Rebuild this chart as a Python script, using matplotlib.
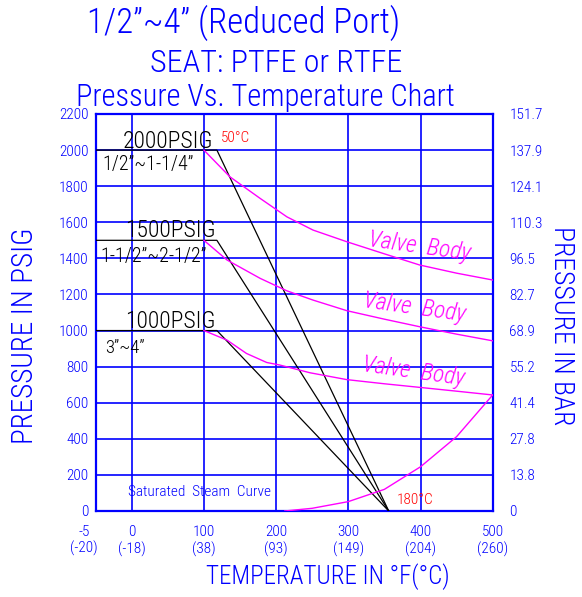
import matplotlib.pyplot as plt

# axis values
temp_f = [0, 100, 200, 300, 400, 500]
temp_c = ['(-18)', '(38)', '(93)', '(149)', '(204)', '(260)']
psig_ticks = [0, 200, 400, 600, 800, 1000, 1200, 1400, 1600, 1800, 2000, 2200]
bar_labels = ['0', '13.8', '27.8', '41.4', '55.2', '68.9', '82.7', '96.5',
              '110.3', '124.1', '137.9', '151.7']

# seat ratings (black lines)
seat_t = [-50, 118, 356]
seat_2000 = [2000, 2000, 0]
seat_1500 = [1500, 1500, 0]
seat_1000 = [1000, 1000, 0]

# valve body curves (magenta)
body_2000_t = [100, 136, 178, 215, 251, 298, 350, 399, 450, 500]
body_2000_p = [2000, 1852, 1732, 1630, 1557, 1492, 1425, 1363, 1318, 1280]
body_1500_t = [100, 132, 178, 215, 251, 298, 350, 399, 450, 500]
body_1500_p = [1500, 1391, 1289, 1220, 1169, 1110, 1063, 1021, 980, 943]
body_1000_t = [100, 132, 159, 187, 205, 247, 298, 350, 399, 450, 500]
body_1000_p = [1000, 947, 873, 823, 809, 766, 728, 705, 685, 664, 643]

# saturated steam curve
steam_t = [212, 250, 300, 350, 400, 450, 500]
steam_p = [0, 15, 52, 120, 245, 412, 643]

BLUE = '#0000ff'
MAG = '#ff00ff'
FONT = ['Roboto Condensed', 'Liberation Sans', 'DejaVu Sans']
plt.rcParams['font.family'] = FONT
plt.rcParams['font.weight'] = 'light'

fig = plt.figure(figsize=(5.82, 5.97), dpi=100)
W, H = 582, 597
ax = fig.add_axes([95.6 / W, 1 - 511 / H, (492.7 - 95.6) / W, (511 - 114) / H])
ax.set_xlim(-50, 500)
ax.set_ylim(0, 2200)

ax.grid(True, color=BLUE, lw=1.2, zorder=1)
for s in ax.spines.values():
    s.set_color(BLUE)
    s.set_linewidth(1.6)

ax.set_xticks(temp_f)
ax.set_xticklabels([f'{f}\n{c}' for f, c in zip(temp_f, temp_c)],
                   fontsize=11, color=BLUE, linespacing=1.2)
ax.set_yticks(psig_ticks)
ax.set_yticklabels([str(p) for p in psig_ticks], fontsize=11, color=BLUE,
                   va='center_baseline')
ax.tick_params(axis='x', length=0, pad=10)
ax.tick_params(axis='y', length=0, pad=5)
ax.text(-66, -0.074, '-5\n(-20)', transform=ax.get_xaxis_transform(),
        ha='center', va='center', fontsize=11, color=BLUE,
        linespacing=1.2, clip_on=False)

ax2 = ax.twinx()
ax2.set_ylim(0, 2200)
ax2.set_yticks(psig_ticks)
ax2.set_yticklabels(bar_labels, fontsize=11, color=BLUE, va='center_baseline')
ax2.tick_params(axis='y', length=0, pad=12)
for s in ax2.spines.values():
    s.set_visible(False)

# seat lines
for p in (seat_2000, seat_1500, seat_1000):
    ax.plot(seat_t, p, color='black', lw=0.9, zorder=3)

# valve body
ax.plot(body_2000_t, body_2000_p, color=MAG, lw=1.0, zorder=3)
ax.plot(body_1500_t, body_1500_p, color=MAG, lw=1.0, zorder=3)
ax.plot(body_1000_t, body_1000_p, color=MAG, lw=1.0, zorder=3)
ax.plot(steam_t, steam_p, color=MAG, lw=1.0, zorder=3)

for x, y in [(399, 1463), (392, 1125), (391, 772)]:
    ax.text(x, y, 'Valve  Body', color=MAG, style='italic',
            fontsize=17, rotation=-8, ha='center', va='center', zorder=4)

# labels inside chart
ax.text(-12, 2010, '2000PSIG', fontsize=17, va='baseline')
ax.text(-40, 1889, '1/2”~1-1/4”', fontsize=14.5, va='baseline')
ax.text(-9, 1520, '1500PSIG', fontsize=17, va='baseline')
ax.text(-44, 1381, '1-1/2”~2-1/2”', fontsize=14.5, va='baseline')
ax.text(-9, 1014, '1000PSIG', fontsize=17, va='baseline')
ax.text(-37, 875, '3”~4”', fontsize=13.5, va='baseline')
ax.text(124, 2066, '50°C', color='red', fontsize=11, va='center')
ax.text(367, 61, '180°C', color='red', fontsize=11, va='center')
ax.text(-5, 105, 'Saturated  Steam  Curve', color=BLUE, fontsize=11,
        va='center')

# titles and axis labels
fig.text(243.5 / W, 1 - 33 / H, '1/2”~4” (Reduced Port)', color=BLUE,
         fontsize=25, ha='center', va='baseline')
fig.text(276 / W, 1 - 72 / H, 'SEAT: PTFE or RTFE', color=BLUE,
         fontsize=23, ha='center', va='baseline')
fig.text(265.5 / W, 1 - 105.5 / H, 'Pressure Vs. Temperature Chart', color=BLUE,
         fontsize=22, ha='center', va='baseline')
fig.text(328 / W, 1 - 577 / H, 'TEMPERATURE IN °F(°C)', color=BLUE,
         fontsize=18, ha='center', va='center')
fig.text(25 / W, 1 - 336 / H, 'PRESSURE IN PSIG', color=BLUE, rotation=90,
         fontsize=21, ha='center', va='center')
fig.text(562 / W, 1 - 326 / H, 'PRESSURE IN BAR', color=BLUE, rotation=-90,
         fontsize=20, ha='center', va='center')

fig.savefig('out.png', dpi=100)
